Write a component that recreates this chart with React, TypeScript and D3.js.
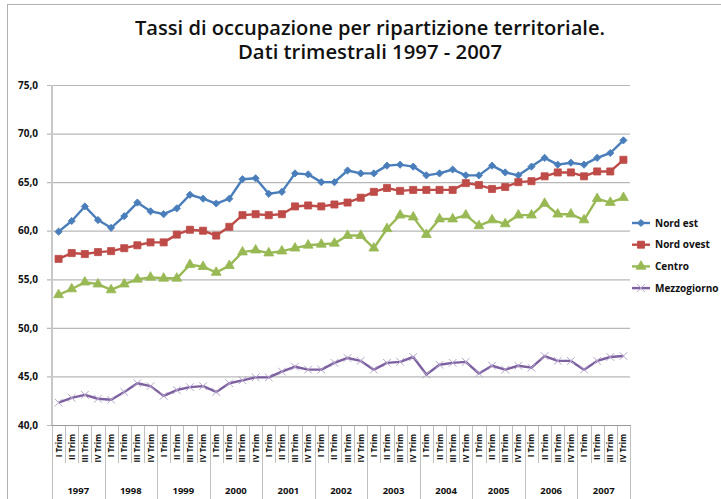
import { useEffect, useRef } from 'react';
import * as d3 from "d3";

// trimestri e anni
const trimLabels = ["I Trim", "II Trim", "III Trim", "IV Trim"];
const years = ["1997", "1998", "1999", "2000", "2001", "2002", "2003", "2004", "2005", "2006", "2007"];

const nordEst = [59.9, 61.0, 62.5, 61.1, 60.3, 61.5, 62.9, 62.0, 61.7, 62.3,
    63.7, 63.3, 62.8, 63.3, 65.3, 65.4, 63.8, 64.0, 65.9, 65.8,
    65.0, 65.0, 66.2, 65.9, 65.9, 66.7, 66.8, 66.6, 65.7, 65.9,
    66.3, 65.7, 65.7, 66.7, 66.0, 65.7, 66.6, 67.5, 66.8, 67.0,
    66.8, 67.5, 68.0, 69.3];
const nordOvest = [57.1, 57.7, 57.6, 57.8, 57.9, 58.2, 58.5, 58.8, 58.8, 59.6,
    60.1, 60.0, 59.5, 60.4, 61.6, 61.7, 61.6, 61.7, 62.5, 62.6,
    62.5, 62.7, 62.9, 63.4, 64.0, 64.4, 64.1, 64.2, 64.2, 64.2,
    64.2, 64.9, 64.7, 64.3, 64.5, 65.0, 65.1, 65.6, 66.0, 66.0,
    65.6, 66.1, 66.1, 67.3];
const centro = [53.4, 54.0, 54.7, 54.5, 53.9, 54.5, 55.0, 55.2, 55.1, 55.1,
    56.5, 56.3, 55.7, 56.4, 57.8, 58.0, 57.7, 57.9, 58.2, 58.5,
    58.6, 58.7, 59.5, 59.5, 58.2, 60.2, 61.6, 61.4, 59.6, 61.2,
    61.2, 61.6, 60.5, 61.1, 60.7, 61.6, 61.6, 62.8, 61.7, 61.7,
    61.1, 63.3, 62.9, 63.4];
const mezzogiorno = [42.3, 42.8, 43.1, 42.7, 42.6, 43.4, 44.3, 44.0, 43.0, 43.6,
    43.9, 44.0, 43.4, 44.3, 44.6, 44.9, 44.9, 45.5, 46.0, 45.7,
    45.7, 46.4, 46.9, 46.6, 45.7, 46.4, 46.5, 47.0, 45.2, 46.2,
    46.4, 46.5, 45.3, 46.1, 45.7, 46.1, 45.9, 47.1, 46.6, 46.6,
    45.7, 46.6, 47.0, 47.1];
const seriesNames = ["Nord est", "Nord ovest", "Centro", "Mezzogiorno"];
const yTicks = [40, 45, 50, 55, 60, 65, 70, 75];

const FONT = "'Open Sans', sans-serif";

const App = () => {
    const ref = useRef<SVGSVGElement | null>(null);

    useEffect(() => {
        if (!ref.current) return;
        const width = 721;
        const height = 499;
        const left = 52, right = 630, top = 85, bottom = 425;

        const svg = d3.select(ref.current)
            .attr("width", width)
            .attr("height", height);
        svg.selectAll("*").remove();

        svg.append("rect").attr("width", width).attr("height", height).attr("fill", "white");
        // bordo del grafico
        svg.append("rect")
            .attr("x", 7.5).attr("y", 4.5)
            .attr("width", 730).attr("height", 510)
            .attr("fill", "none").attr("stroke", "#b0b0b0");

        // titolo
        const title = svg.append("g").attr("font-family", FONT).attr("font-weight", 600)
            .attr("font-size", 19).attr("fill", "#111").attr("text-anchor", "middle");
        title.append("text").attr("x", 370).attr("y", 35)
            .attr("textLength", 470).attr("lengthAdjust", "spacingAndGlyphs")
            .text("Tassi di occupazione per ripartizione territoriale.");
        title.append("text").attr("x", 370).attr("y", 59)
            .attr("textLength", 264).attr("lengthAdjust", "spacingAndGlyphs")
            .text("Dati trimestrali 1997 - 2007");

        const categories = years.flatMap(y => trimLabels.map(t => `${y} ${t}`));
        const x = d3.scaleBand<string>().domain(categories).range([left, right]);
        const y = d3.scaleLinear().domain([40, 75]).range([bottom, top]);
        const cx = (i: number) => (x(categories[i]) || 0) + x.bandwidth() / 2;

        // griglia
        svg.append("g").selectAll("line").data(yTicks).enter().append("line")
            .attr("x1", left - 5).attr("x2", right)
            .attr("y1", d => y(d) + 0.5).attr("y2", d => y(d) + 0.5)
            .attr("stroke", "#b8b8b8").attr("stroke-width", 1.2);

        // asse y
        const yAxis = svg.append("g")
            .attr("transform", `translate(${left},0)`)
            .call(d3.axisLeft(y).tickValues(yTicks).tickSize(0).tickPadding(14)
                .tickFormat(d => d3.format(".1f")(d as number).replace(".", ",")));
        yAxis.select(".domain").remove();
        yAxis.selectAll("text").attr("font-family", FONT).attr("font-weight", 700)
            .attr("font-size", 10).attr("fill", "#111");
        svg.append("line").attr("x1", left).attr("x2", left).attr("y1", top).attr("y2", bottom)
            .attr("stroke", "#c8c8c8").attr("stroke-width", 2);

        // asse x: separatori
        const sep = svg.append("g").attr("stroke", "#c0c0c0");
        categories.forEach((c, i) => {
            const xx = Math.round(x(c) || 0) + 0.5;
            sep.append("line").attr("x1", xx).attr("x2", xx)
                .attr("y1", bottom).attr("y2", i % 4 === 0 ? height : 463);
        });
        sep.append("line").attr("x1", right + 0.5).attr("x2", right + 0.5)
            .attr("y1", bottom).attr("y2", height);
        svg.append("line").attr("x1", left).attr("x2", right + 1)
            .attr("y1", bottom + 0.5).attr("y2", bottom + 0.5)
            .attr("stroke", "#999");

        // etichette trimestri
        svg.append("g").selectAll("text").data(categories).enter().append("text")
            .attr("transform", (_, i) => `translate(${cx(i) + 3},434) rotate(-90)`)
            .attr("text-anchor", "end")
            .attr("font-family", FONT).attr("font-weight", 700).attr("font-size", 8)
            .attr("fill", "#111")
            .text((_, i) => trimLabels[i % 4]);

        // etichette anni
        svg.append("g").selectAll("text").data(years).enter().append("text")
            .attr("x", (_, i) => ((x(categories[i * 4]) || 0) + (x(categories[i * 4 + 3]) || 0) + x.bandwidth()) / 2)
            .attr("y", 494)
            .attr("text-anchor", "middle")
            .attr("font-family", FONT).attr("font-weight", 700).attr("font-size", 9.5)
            .attr("fill", "#111")
            .text(d => d);

        const seriesData = [nordEst, nordOvest, centro, mezzogiorno];
        const colors = ["#4a7ebb", "#be4b48", "#98b954", "#7d60a0"];
        const markerColors = ["#4a7ebb", "#be4b48", "#98b954", "#b4a5cc"];
        const symbols = [
            d3.symbol().type(d3.symbolSquare).size(26),
            d3.symbol().type(d3.symbolSquare).size(50),
            d3.symbol().type(d3.symbolTriangle).size(42),
            d3.symbol().type(d3.symbolX).size(40),
        ];
        const rotations = [45, 0, 0, 0];

        const drawMarker = (g: d3.Selection<SVGGElement, unknown, null, undefined>, s: number, px: number, py: number) => {
            const p = g.append("path")
                .attr("d", symbols[s]()!)
                .attr("transform", `translate(${px},${py}) rotate(${rotations[s]})`);
            if (s === 3) {
                p.attr("fill", "none").attr("stroke", markerColors[s]).attr("stroke-width", 1);
            } else {
                p.attr("fill", markerColors[s]).attr("stroke", markerColors[s]).attr("stroke-width", 0.8);
            }
        };

        const line = d3.line<number>().x((_, i) => cx(i)).y(d => y(d));
        seriesData.forEach((data, s) => {
            const g = svg.append("g");
            g.append("path").datum(data)
                .attr("fill", "none").attr("stroke", colors[s])
                .attr("stroke-width", 2.4).attr("stroke-linejoin", "round")
                .attr("d", line);
            data.forEach((v, i) => drawMarker(g, s, cx(i), y(v)));
        });

        // legenda
        const leg = svg.append("g");
        seriesNames.forEach((name, s) => {
            const ly = 223 + s * 21.7;
            const g = leg.append("g");
            g.append("line").attr("x1", 632).attr("x2", 650).attr("y1", ly).attr("y2", ly)
                .attr("stroke", colors[s]).attr("stroke-width", 2.4);
            drawMarker(g, s, 641, ly);
            g.append("text").attr("x", 655).attr("y", ly + 3.6)
                .attr("font-family", FONT).attr("font-weight", 700).attr("font-size", 10)
                .attr("fill", "#111").text(name);
        });
    }, []);

    return (
        <svg ref={ref} style={{ position: "absolute", left: 0, top: 0 }}></svg>
    );
};

export default App;
